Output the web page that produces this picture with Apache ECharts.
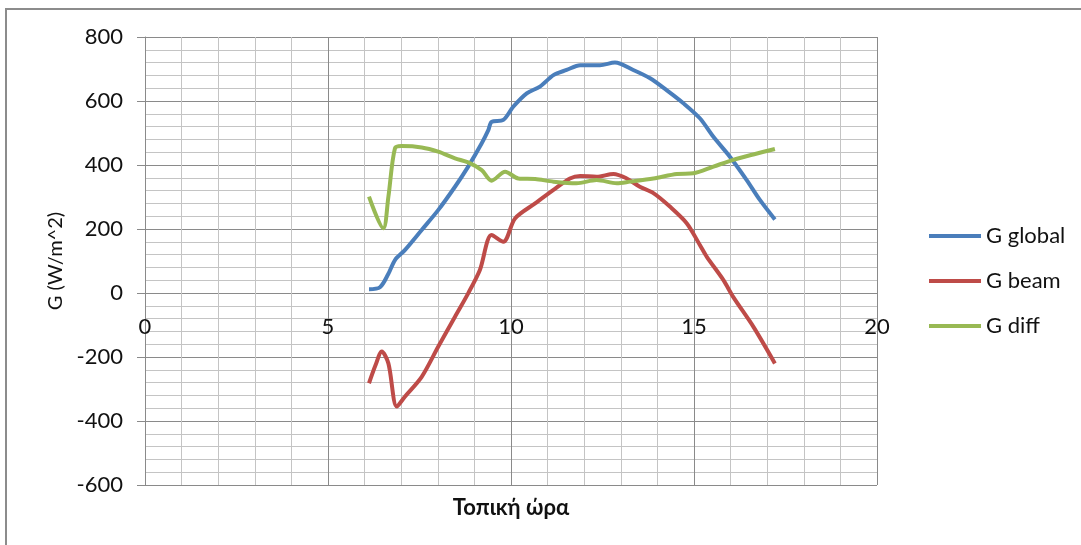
<!DOCTYPE html>
<html>
<head>
<meta charset="utf-8">
<script src="https://cdn.jsdelivr.net/npm/echarts@6/dist/echarts.min.js"></script>
<style>html,body{margin:0;padding:0;background:#fff;}#c{width:1081px;height:545px;}</style>
</head>
<body>
<div id="c"></div>
<script>
const seriesNames = ['G global', 'G beam', 'G diff'];
const xTicks = [0, 5, 10, 15, 20];
const yTicks = [-600, -400, -200, 0, 200, 400, 600, 800];

const globalHours = [6.12,6.42,6.65,6.83,7.10,7.56,8.01,8.47,8.83,9.2,9.38,9.47,9.79,10.06,10.43,10.79,11.16,11.52,11.89,12.43,12.84,13.34,13.8,14.25,14.71,15.16,15.53,15.98,16.44,16.8,17.21];
const globalVals  = [12,18,60,103,134,197,259,332,395,468,509,535,541,582,624,645,681,697,712,712,720,697,671,634,593,546,488,426,353,291,230];

const beamHours = [6.12,6.3,6.47,6.65,6.88,7.10,7.56,8.01,8.47,8.83,9.15,9.47,9.79,10.11,10.66,11.16,11.61,11.89,12.34,12.8,13.16,13.52,13.89,14.34,14.8,15.16,15.35,15.8,16.07,16.62,17.21];
const beamVals  = [-282,-225,-183,-220,-355,-324,-262,-168,-74,-1,72,181,160,233,280,322,358,366,363,372,358,332,312,270,218,150,113,41,-12,-105,-220];

const diffHours = [6.12,6.51,6.65,6.83,7.01,7.56,8.01,8.47,8.83,9.2,9.47,9.84,10.2,10.66,11.16,11.79,12.34,12.89,13.25,13.89,14.53,14.98,15.53,16.07,16.62,17.21];
const diffVals  = [301,202,301,452,459,455,442,421,408,384,351,379,358,356,348,343,353,343,348,358,372,374,395,416,433,450];

function pairs(xs, ys){ return xs.map((x,i)=>[x, ys[i]]); }

const chart = echarts.init(document.getElementById('c'));
const font = 'Lato, "Open Sans", sans-serif';
const minorColor = '#c4c4c4';
const majorColor = '#8a8a8a';
chart.setOption({
  backgroundColor: '#fff',
  animation: false,
  textStyle: { fontFamily: font },
  graphic: [{
    type: 'rect', silent: true,
    shape: { x: 6, y: 9, width: 1200, height: 700 },
    style: { fill: 'none', stroke: '#8c8c8c', lineWidth: 2 }
  }],
  grid: { left: 145, top: 37, right: 204, bottom: 60, containLabel: false, outerBoundsMode: 'none' },
  legend: {
    orient: 'vertical', left: 924, top: 220, itemGap: 23,
    itemWidth: 52, itemHeight: 4, icon: 'rect',
    textStyle: { fontSize: 22, color: '#111', fontFamily: font },
    data: seriesNames
  },
  xAxis: {
    type: 'value', min: 0, max: 20, interval: 5, position: 'bottom',
    name: 'Τοπική ώρα', nameLocation: 'middle', nameGap: 12, nameMoveOverlap: false,
    nameTextStyle: { fontSize: 22, fontWeight: 'bold', color: '#111', fontFamily: font },
    axisLine: { show: false, onZero: false },
    axisTick: { show: false },
    axisLabel: { margin: -169, fontSize: 22, color: '#111', fontFamily: font },
    splitLine: { show: true, lineStyle: { color: majorColor, width: 1 } },
    minorTick: { show: false, splitNumber: 5 },
    minorSplitLine: { show: true, lineStyle: { color: minorColor, width: 1 } }
  },
  yAxis: {
    type: 'value', min: -600, max: 800, interval: 200,
    name: 'G (W/m^2)', nameLocation: 'middle', nameGap: 78, nameRotate: 90,
    nameTextStyle: { fontSize: 20, color: '#111', fontFamily: font },
    axisLine: { show: true, onZero: false, lineStyle: { color: majorColor, width: 1 } },
    axisTick: { show: true, length: 8, lineStyle: { color: majorColor } },
    axisLabel: { margin: 22, fontSize: 22, color: '#111', fontFamily: font },
    splitLine: { show: true, lineStyle: { color: majorColor, width: 1 } },
    minorTick: { show: false, splitNumber: 5 },
    minorSplitLine: { show: true, lineStyle: { color: minorColor, width: 1 } }
  },
  series: [
    { name: seriesNames[0], type: 'line', data: pairs(globalHours, globalVals), showSymbol: false, smooth: 0.3,
      itemStyle: { color: '#4a7ebb' }, lineStyle: { color: '#4a7ebb', width: 4 } },
    { name: seriesNames[1], type: 'line', data: pairs(beamHours, beamVals), showSymbol: false, smooth: 0.3,
      itemStyle: { color: '#be4b48' }, lineStyle: { color: '#be4b48', width: 4 } },
    { name: seriesNames[2], type: 'line', data: pairs(diffHours, diffVals), showSymbol: false, smooth: 0.3,
      itemStyle: { color: '#98b954' }, lineStyle: { color: '#98b954', width: 4 } }
  ]
});
</script>
</body>
</html>
